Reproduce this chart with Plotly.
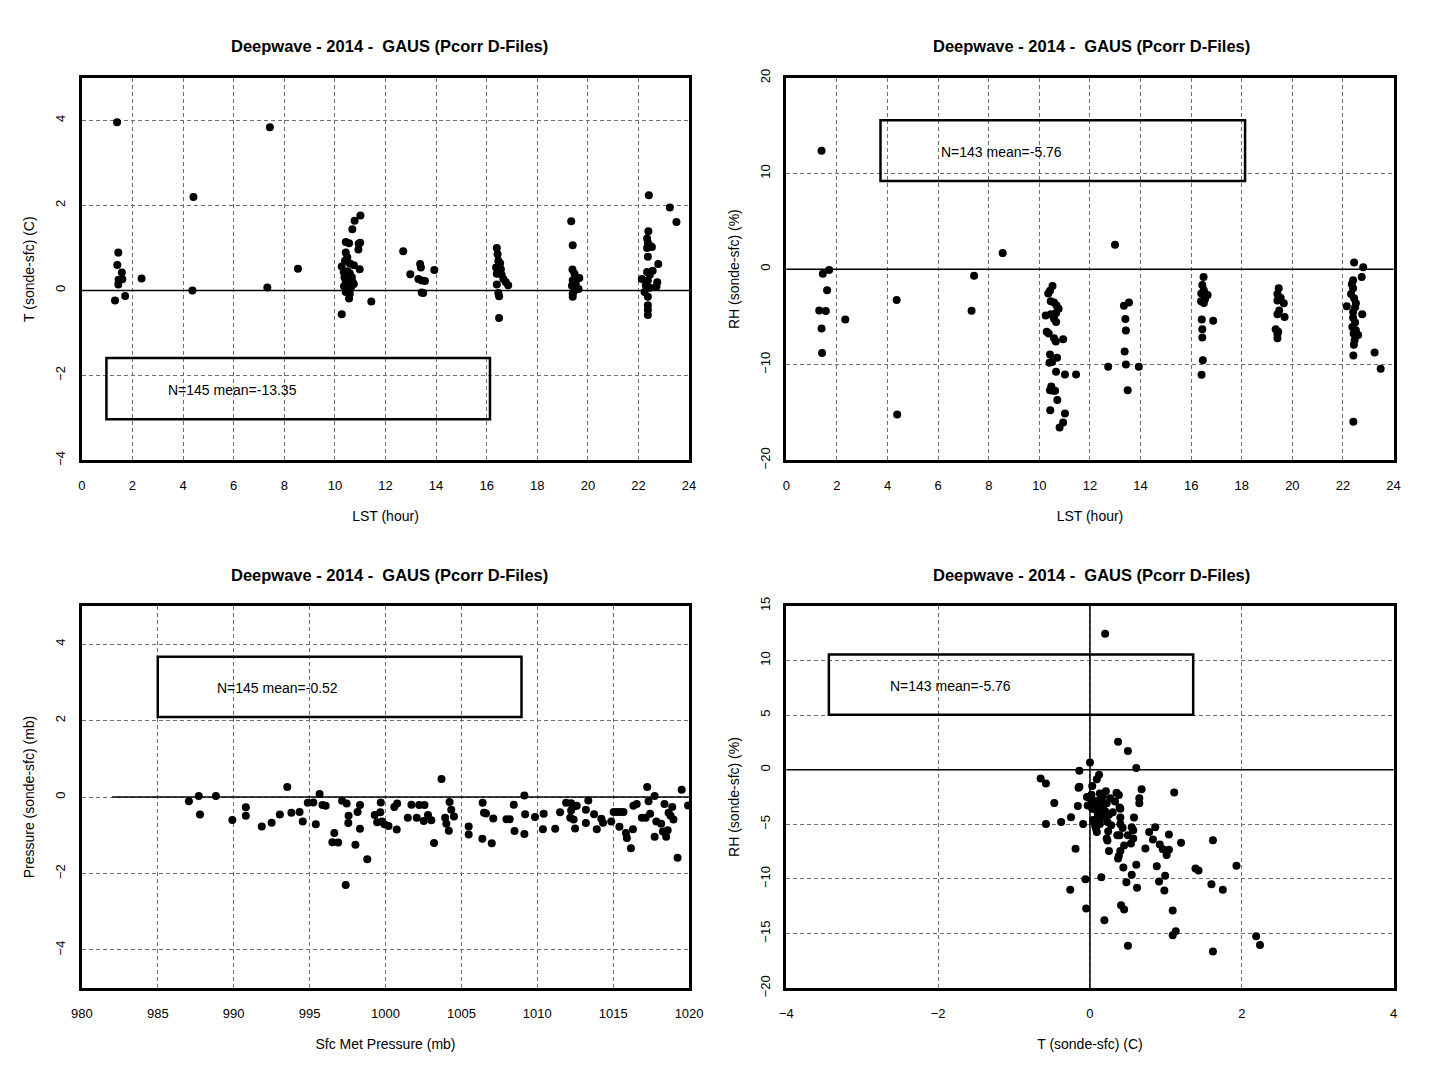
import plotly.graph_objects as go

# ---------------- data ----------------
TITLE = "Deepwave - 2014 -\u00a0 GAUS (Pcorr D-Files)"

# Panel 1: T diff vs LST
lst_t = [1.39, 7.43, 4.41, 1.44, 1.40, 1.58, 1.45, 1.60, 1.44, 1.31, 1.71, 2.36, 4.37, 7.33, 8.54,
         10.27, 10.56, 11.01, 10.78, 10.69, 10.94, 11.00, 10.43, 10.56, 10.93, 10.43, 10.49, 10.59,
         10.75, 10.98, 10.27, 10.35, 10.59, 10.38, 10.67, 10.43, 10.59, 10.75, 10.43, 10.56, 10.65,
         10.43, 10.59, 11.44, 10.40, 10.52, 10.62, 10.45, 10.50, 10.36, 10.55, 10.48, 10.60, 10.70,
         12.70, 12.98, 13.37, 13.40, 13.30, 13.43, 13.56, 13.93, 13.43, 13.49,
         16.40, 16.43, 16.46, 16.53, 16.37, 16.56, 16.40, 16.59, 16.66, 16.76, 16.85, 16.40, 16.46,
         16.49, 16.49,
         19.34, 19.40, 19.39, 19.47, 19.66, 19.40, 19.52, 19.37, 19.63, 19.47, 19.40, 19.40,
         22.41, 23.24, 23.50, 22.39, 22.34, 22.37, 22.49, 22.34, 22.53, 22.37, 22.78, 22.56, 22.34,
         22.45, 22.13, 22.37, 22.74, 22.29, 22.71, 22.45, 22.24, 22.37, 22.37, 22.37, 22.37]
dt_t = [3.96, 3.84, 2.20, 0.89, 0.60, 0.42, 0.25, 0.26, 0.14, -0.24, -0.13, 0.28, 0.00, 0.07, 0.51,
        -0.56, -0.19, 1.76, 1.64, 1.44, 1.10, 1.12, 1.14, 1.11, 0.96, 0.89, 0.78, 0.63,
        0.59, 0.50, 0.56, 0.43, 0.40, 0.31, 0.31, 0.22, 0.18, 0.15, 0.12, 0.06, 0.09,
        -0.04, -0.08, -0.26, 0.70, 0.35, 0.25, 0.02, 0.45, 0.10, 0.28, -0.02, 0.05, 0.20,
        0.92, 0.38, 0.62, 0.54, 0.27, 0.23, 0.22, 0.48, -0.05, -0.06,
        1.00, 0.85, 0.70, 0.64, 0.54, 0.50, 0.39, 0.37, 0.27, 0.19, 0.12, 0.14, -0.06,
        -0.14, -0.65,
        1.63, 1.06, 0.49, 0.39, 0.29, 0.24, 0.15, 0.11, 0.03, 0.00, -0.08, -0.15,
        2.24, 1.95, 1.61, 1.39, 1.22, 1.12, 1.04, 1.00, 1.02, 0.79, 0.62, 0.46, 0.43,
        0.37, 0.27, 0.23, 0.19, 0.12, 0.09, 0.06, -0.04, -0.15, -0.35, -0.46, -0.58]

# Panel 2: RH diff vs LST
lst_rh = [1.39, 1.44, 1.69, 1.61, 1.30, 1.56, 2.33, 1.39, 1.41, 4.36, 4.38, 7.42, 7.32, 8.55, 12.99,
          10.52, 10.42, 10.35, 10.45, 10.58, 10.68, 10.76, 10.66, 10.25, 10.45, 10.58, 10.66, 10.29,
          10.37, 10.58, 10.94, 10.65, 10.42, 10.70, 10.50, 10.40, 10.66, 11.01, 11.45, 10.47, 10.55,
          10.62, 10.42, 10.71, 10.43, 11.01, 10.94, 10.80,
          12.72, 13.34, 13.54, 13.40, 13.42, 13.37, 13.42, 13.93, 13.49,
          16.49, 16.44, 16.50, 16.40, 16.65, 16.55, 16.39, 16.50, 16.87, 16.42, 16.44, 16.44, 16.46,
          16.41,
          19.46, 19.41, 19.54, 19.41, 19.66, 19.48, 19.41, 19.69, 19.34, 19.44, 19.41, 19.41,
          22.44, 22.80, 22.74, 22.40, 22.35, 22.40, 22.32, 22.44, 22.51, 22.15, 22.48, 22.40, 22.76,
          22.40, 22.48, 22.37, 22.51, 22.42, 22.60, 22.46, 22.43, 22.41, 23.25, 23.49, 22.41]
drh_rh = [12.38, -0.48, -0.10, -2.20, -4.32, -4.39, -5.28, -6.21, -8.78, -3.22, -15.20, -0.69, -4.36,
          1.68, 2.54,
          -1.75, -2.26, -2.54, -3.36, -3.50, -3.81, -4.15, -4.60, -4.84, -4.73, -5.18, -5.52, -6.55,
          -6.72, -7.24, -7.34, -7.58, -8.92, -9.26, -9.71, -9.78, -10.74, -11.01, -11.01, -12.28,
          -12.73, -12.73, -12.66, -13.69, -14.75, -15.09, -16.05, -16.57,
          -10.22, -3.84, -3.50, -5.21, -6.42, -8.61, -9.98, -10.22, -12.66,
          -0.82, -1.65, -2.20, -2.54, -2.71, -3.12, -3.36, -3.53, -5.39, -5.28, -6.28, -7.14, -9.54,
          -11.05,
          -1.99, -2.61, -3.02, -3.29, -3.57, -4.32, -4.73, -5.01, -6.28, -6.55, -6.79, -7.24,
          0.69, 0.21, -0.82, -1.17, -1.58, -1.99, -2.61, -3.05, -3.57, -3.88, -3.98, -4.49, -4.73,
          -5.08, -5.59, -6.04, -6.38, -6.72, -6.90, -7.41, -7.92, -9.02, -8.71, -10.43, -15.95]

# Panel 3: Pressure diff vs surface pressure
sfc_p = [987.05, 987.70, 987.78, 988.83, 989.91, 990.80, 990.80, 991.85, 992.50, 993.04, 993.53,
         993.80, 994.34, 994.55, 994.88, 995.25, 995.41, 995.66, 995.85, 996.06, 996.63, 996.50,
         996.88, 997.14, 997.44, 997.57, 997.55, 997.38, 998.02, 998.16, 998.32, 998.32, 998.80,
         999.29, 999.45, 999.66, 999.69, 999.77, 999.93, 1000.20, 1000.58, 1000.77, 1000.74,
         1001.47, 1001.71, 1002.06, 1002.22, 1002.57, 1002.52, 1002.80, 1003.02, 1003.20, 1003.69,
         1003.93, 1004.01, 1004.17, 1004.22, 1004.33, 1004.51, 1005.48, 1005.48, 1006.40, 1006.49,
         1006.38, 1006.62, 1007.00, 1007.10, 1007.97, 1008.18, 1008.45, 1008.50, 1009.15, 1009.20,
         1009.15, 1009.85, 1010.42, 1010.37, 1011.18, 1011.50, 1011.90, 1012.23, 1012.23, 1012.17,
         1012.39, 1012.44, 1012.49, 1012.60, 1013.20, 1013.36, 1013.20, 1013.74, 1013.92, 1014.22,
         1014.33, 1014.87, 1015.03, 1015.25, 1015.47, 1015.68, 1015.41, 1015.84, 1015.90, 1016.17,
         1016.30, 1016.33, 1016.55, 1016.89, 1017.14, 1017.24, 1017.33, 1017.43, 1017.73, 1017.73,
         1017.84, 1018.16, 1018.27, 1018.38, 1018.49, 1018.59, 1018.65, 1018.78, 1018.89, 1018.97,
         1019.24, 1019.51, 1019.93]
dp_p = [-0.11, 0.03, -0.46, 0.03, -0.60, -0.27, -0.49, -0.77, -0.67, -0.46, 0.26,
        -0.41, -0.39, -0.64, -0.15, -0.14, -0.71, 0.08, -0.21, -0.23, -0.94, -1.18,
        -1.19, -0.10, -0.17, -0.49, -0.68, -2.30, -1.25, -0.39, -0.21, -0.83, -1.63,
        -0.47, -0.66, -0.40, -0.14, -0.64, -0.71, -0.76, -0.26, -0.17, -0.85,
        -0.54, -0.20, -0.54, -0.21, -0.21, -0.63, -0.47, -0.61, -1.20, 0.47,
        -0.54, -0.70, -0.88, -0.13, -0.33, -0.51, -0.77, -0.98, -0.15, -0.41,
        -1.09, -0.43, -1.21, -0.56, -0.58, -0.58, -0.20, -0.89, 0.04, -0.45,
        -0.97, -0.52, -0.44, -0.84, -0.83, -0.40, -0.15, -0.16, -0.35, -0.54,
        -0.59, -0.24, -0.82, -0.23, -0.33, -0.09, -0.68, -0.45, -0.84, -0.57,
        -0.67, -0.64, -0.39, -0.39, -0.39, -0.39, -0.78, -0.94, -1.07, -1.34,
        -0.84, -0.23, -0.18, -0.54, -0.54, 0.26, -0.11, -0.44, 0.03, -1.04,
        -0.64, -0.70, -0.90, -0.18, -1.04, -0.87, -0.41, -0.49, -0.26, -0.59,
        -1.59, 0.19, -0.22]

# Panel 4: RH diff vs T diff
dt_sc = [0.20, 0.37, 0.50, 0.61, 0.00, -0.14, -0.65, -0.58, 0.12, 0.09, -0.14, -0.15, 0.03, 0.68,
         1.11, -0.47, -0.16, -0.25, -0.38, -0.58, -0.09, -0.19, -0.26, -0.06, -0.05, 0.15, 0.19,
         0.50, 0.41, 0.45, 0.44, 0.48, 0.55, 0.61, 0.62, 0.88, 0.91, 0.98, 0.99, 1.09, 1.09, 1.13,
         1.62, 1.62, 1.60, 1.75, 1.39, 1.43, 1.93, 2.19, 2.24, 1.20, 1.04, 1.04, 1.01, 0.96, 0.92,
         0.86, 0.83, 0.78, 0.73, 0.58, 0.57, 0.57, 0.54, 0.50, 0.45, 0.40, 0.38, 0.37, 0.25, 0.23,
         0.22, 0.65, 0.65, 0.38, 0.35, 0.39, 0.40, 0.40, 0.40, 0.43, 0.36, 0.39, 0.55, 0.21, 0.17,
         0.14, 0.22, 0.09, 0.05, 0.01, -0.04, -0.03, 0.03, 0.10, 0.25, 0.17, 0.09, 0.05, 0.13, 0.23,
         0.28, 0.24, 0.09, 0.08, 0.30, 0.33, 0.27, 0.13, 0.02, 0.06, 0.11, 0.18, 0.04, 0.12, 0.20,
         0.07, 0.15, 0.31]
drh_sc = [12.44, 2.56, 1.72, 0.15, 0.66, -0.09, -0.81, -1.27, -0.45, -0.87, -1.57, -1.66, -1.48,
          -1.78, -2.08, -3.04, -3.31, -4.34, -4.79, -4.97, -4.97, -7.23, -10.99, -10.03, -12.71,
          -9.85, -13.77, -16.11, -12.41, -12.80, -8.95, -10.30, -9.61, -8.70, -10.81, -8.83, -10.24,
          -11.05, -9.70, -12.89, -15.15, -14.79, -6.45, -16.63, -10.48, -10.99, -9.04, -9.22, -8.80,
          -15.24, -16.05, -6.69, -5.93, -7.32, -7.80, -7.29, -6.84, -5.27, -6.39, -5.69, -7.20,
          -4.37, -5.54, -6.30, -6.75, -5.99, -6.93, -7.44, -7.89, -8.13, -7.44, -6.48, -6.30, -2.62,
          -3.07, -2.32, -2.11, -3.46, -3.58, -4.37, -4.97, -5.33, -5.99, -5.99, -5.27, -1.96, -2.44,
          -2.77, -3.07, -2.86, -3.22, -2.68, -2.50, -3.28, -3.58, -3.89, -4.13, -4.37, -4.49, -4.79,
          -4.97, -4.79, -5.09, -5.63, -5.69, -5.39, -3.89, -2.92, -2.62, -2.17, -2.30, -3.60, -4.10,
          -3.20, -4.60, -2.90, -3.80, -5.20, -3.40]

# summary boxes: [x0, x1, y0, y1], text anchor [x, y], text
box1 = [0.97, 16.13, -3.03, -1.59]; txt1_xy = [3.33, -2.34]; txt1 = "N=145 mean=-13.35"
box2 = [3.72, 18.13, 9.23, 15.57]; txt2_xy = [6.02, 12.3]; txt2 = "N=143 mean=-5.76"
box3 = [985.0, 1008.96, 2.09, 3.67]; txt3_xy = [988.77, 2.85]; txt3 = "N=145 mean=-0.52"
box4 = [-3.44, 1.36, 5.03, 10.54]; txt4_xy = [-2.66, 7.68]; txt4 = "N=143 mean=-5.76"

# axis ranges / ticks
lst_range = [0, 24]; lst_dtick = 2
t_range = [-4, 5]; t_dtick = 2
rh_range = [-20, 20]; rh_dtick = 10
p_range = [980, 1020]; p_dtick = 5
dp_range = [-5, 5]; dp_dtick = 2
tx_range = [-4, 4]; tx_dtick = 2
rh4_range = [-20, 15]; rh4_dtick = 5

# ---------------- figure ----------------
# The page body keeps its default 8px margin, so the figure is 16px smaller than the
# window and all pixel positions below are window positions minus that margin.
PAGE_W, PAGE_H, BODY = 1448, 1076, 8
W, H = PAGE_W - 2 * BODY, PAGE_H - 2 * BODY
FONT = "Liberation Sans, Arial, sans-serif"

def px_dom(a, b, total, flip=False):
    a, b = a - BODY, b - BODY
    if flip:
        return [1 - b / total, 1 - a / total]
    return [a / total, b / total]

left_x = px_dom(72, 690, W)
right_x = px_dom(789, 1407, W)
top_y = px_dom(70, 459, H, flip=True)
bot_y = px_dom(607, 996, H, flip=True)

fig = go.Figure()

mk = dict(color="black", size=8, line=dict(width=0))
fig.add_trace(go.Scatter(x=lst_t, y=dt_t, mode="markers", marker=mk, xaxis="x", yaxis="y"))
fig.add_trace(go.Scatter(x=lst_rh, y=drh_rh, mode="markers", marker=mk, xaxis="x2", yaxis="y2"))
fig.add_trace(go.Scatter(x=sfc_p, y=dp_p, mode="markers", marker=mk, xaxis="x3", yaxis="y3"))
fig.add_trace(go.Scatter(x=dt_sc, y=drh_sc, mode="markers", marker=mk, xaxis="x4", yaxis="y4"))

grid = dict(showgrid=True, gridcolor="#6e6e6e", gridwidth=1, griddash="4px,3px",
            showline=True, linecolor="black", linewidth=2.5, mirror=True,
            ticks="", zeroline=False, tickfont=dict(family=FONT, size=13, color="black"),
            title_font=dict(family=FONT, size=14, color="black"))

def xax(dom, anchor, rng, dtick, title):
    d = dict(grid)
    d.update(domain=dom, anchor=anchor, range=rng, dtick=dtick, tick0=rng[0],
             title=dict(text=title, standoff=20), ticklabelstandoff=11)
    return d

def yax(dom, anchor, rng, dtick, tick0, title, lab_off):
    d = dict(grid)
    d.update(domain=dom, anchor=anchor, range=rng, dtick=dtick, tick0=tick0,
             tickangle=-90, title=dict(text=title, standoff=16), ticklabelstandoff=lab_off)
    return d

fig.update_layout(
    width=W, height=H, margin=dict(l=0, r=0, t=0, b=0), autosize=False,
    paper_bgcolor="white", plot_bgcolor="white", showlegend=False,
    xaxis=xax(left_x, "y", lst_range, lst_dtick, "LST (hour)"),
    yaxis=yax(top_y, "x", t_range, t_dtick, -4, "T (sonde-sfc) (C)", 9),
    xaxis2=xax(right_x, "y2", lst_range, lst_dtick, "LST (hour)"),
    yaxis2=yax(top_y, "x2", rh_range, rh_dtick, -20, "RH (sonde-sfc) (%)", 8),
    xaxis3=xax(left_x, "y3", p_range, p_dtick, "Sfc Met Pressure (mb)"),
    yaxis3=yax(bot_y, "x3", dp_range, dp_dtick, -4, "Pressure (sonde-sfc) (mb)", 9),
    xaxis4=xax(right_x, "y4", tx_range, tx_dtick, "T (sonde-sfc) (C)"),
    yaxis4=yax(bot_y, "x4", rh4_range, rh4_dtick, -20, "RH (sonde-sfc) (%)", 8),
)

# zero reference lines
zl = dict(color="black", width=1.5)
fig.add_shape(type="line", xref="x domain", yref="y", x0=0, x1=1, y0=0, y1=0, line=zl)
fig.add_shape(type="line", xref="x2 domain", yref="y2", x0=0, x1=1, y0=0, y1=0, line=zl)
fig.add_shape(type="line", xref="x3", yref="y3", x0=982, x1=p_range[1], y0=0, y1=0, line=zl)
fig.add_shape(type="line", xref="x4 domain", yref="y4", x0=0, x1=1, y0=0, y1=0, line=zl)
fig.add_shape(type="line", xref="x4", yref="y4 domain", x0=0, x1=0, y0=0, y1=1, line=zl)

# summary boxes and text
for i, (b, txy, t) in enumerate([(box1, txt1_xy, txt1), (box2, txt2_xy, txt2),
                                 (box3, txt3_xy, txt3), (box4, txt4_xy, txt4)], start=1):
    sfx = "" if i == 1 else str(i)
    fig.add_shape(type="rect", xref="x" + sfx, yref="y" + sfx, x0=b[0], x1=b[1], y0=b[2], y1=b[3],
                  line=dict(color="black", width=2.5), fillcolor="rgba(0,0,0,0)")
    fig.add_annotation(xref="x" + sfx, yref="y" + sfx, x=txy[0], y=txy[1], text=t, showarrow=False,
                       xanchor="left", yanchor="middle",
                       font=dict(family=FONT, size=14, color="black"))

# panel titles (window pixel centres)
for cx, cy in [(385, 38), (1100, 38), (385, 576), (1100, 576)]:
    fig.add_annotation(xref="paper", yref="paper", x=(cx - BODY) / W, y=1 - (cy - BODY) / H,
                       text="<b>" + TITLE + "</b>", showarrow=False,
                       xanchor="center", yanchor="middle",
                       font=dict(family=FONT, size=16.5, color="black"))

fig.write_html("out.html", config={"displayModeBar": False, "responsive": False})
